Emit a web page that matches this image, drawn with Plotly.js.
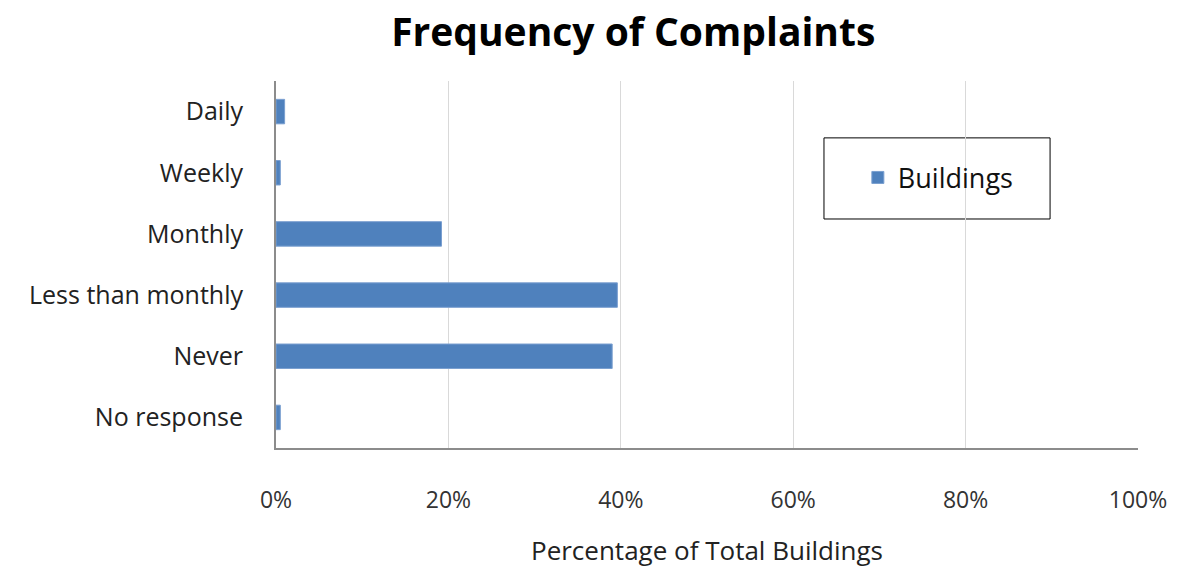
<!DOCTYPE html>
<html>
<head>
<meta charset="utf-8">
<script src="https://cdn.plot.ly/plotly-3.0.1.min.js"></script>
<style>html,body{margin:0;padding:0;background:#fff;}#chart{width:1177px;height:568px;}</style>
</head>
<body>
<div id="chart"></div>
<script>
const categories = ["Daily", "Weekly", "Monthly", "Less than monthly", "Never", "No response"];
const buildings = [1.0, 0.5, 19.2, 39.6, 39.0, 0.5];
const xTickVals = [0, 20, 40, 60, 80, 100];
const xTickText = ["0%", "20%", "40%", "60%", "80%", "100%"];
const seriesName = "Buildings";

const font = "'Open Sans', 'Noto Sans', 'Liberation Sans', sans-serif";

const trace = {
  type: "bar",
  orientation: "h",
  y: categories,
  x: buildings,
  name: seriesName,
  marker: {color: "#4f81bd", line: {color: "#7a9fd0", width: 1}},
  showlegend: true
};

const layout = {
  width: 1177, height: 568,
  paper_bgcolor: "#fff", plot_bgcolor: "#fff",
  margin: {l: 276, r: 39, t: 81, b: 120},
  title: {text: "<b>Frequency of Complaints</b>", font: {family: font, size: 39, color: "#000"}, x: 0.538, xanchor: "center", y: 0.943, yanchor: "middle"},
  bargap: 0.6,
  xaxis: {
    range: [0, 100], tickvals: xTickVals, ticktext: xTickText,
    showgrid: true, gridcolor: "#d9d9d9", gridwidth: 1,
    zeroline: false, showline: true, linecolor: "#8c8c8c", linewidth: 2,
    ticks: "outside", ticklen: 30, tickcolor: "rgba(0,0,0,0)",
    tickfont: {family: font, size: 23, color: "#333"},
    title: {text: "Percentage of Total Buildings", font: {family: font, size: 26, color: "#222"}, standoff: 30},
    fixedrange: true
  },
  yaxis: {
    categoryorder: "array", categoryarray: categories, autorange: "reversed",
    showgrid: false, zeroline: false, showline: true, linecolor: "#8c8c8c", linewidth: 2,
    ticks: "outside", ticklen: 26, tickcolor: "rgba(0,0,0,0)",
    tickfont: {family: font, size: 25, color: "#222"},
    fixedrange: true
  },
  legend: {
    x: 0.675, xanchor: "left", y: 0.736, yanchor: "middle",
    bgcolor: "rgba(0,0,0,0)", borderwidth: 0,
    font: {family: font, size: 27, color: "#111"}
  },
  shapes: [{
    type: "rect", xref: "paper", yref: "paper",
    x0: 0.6357, x1: 0.898, y0: 0.624, y1: 0.845,
    line: {color: "#000", width: 1}, fillcolor: "#fff", layer: "below"
  }]
};

Plotly.newPlot("chart", [trace], layout, {displayModeBar: false, staticPlot: true});
</script>
</body>
</html>
